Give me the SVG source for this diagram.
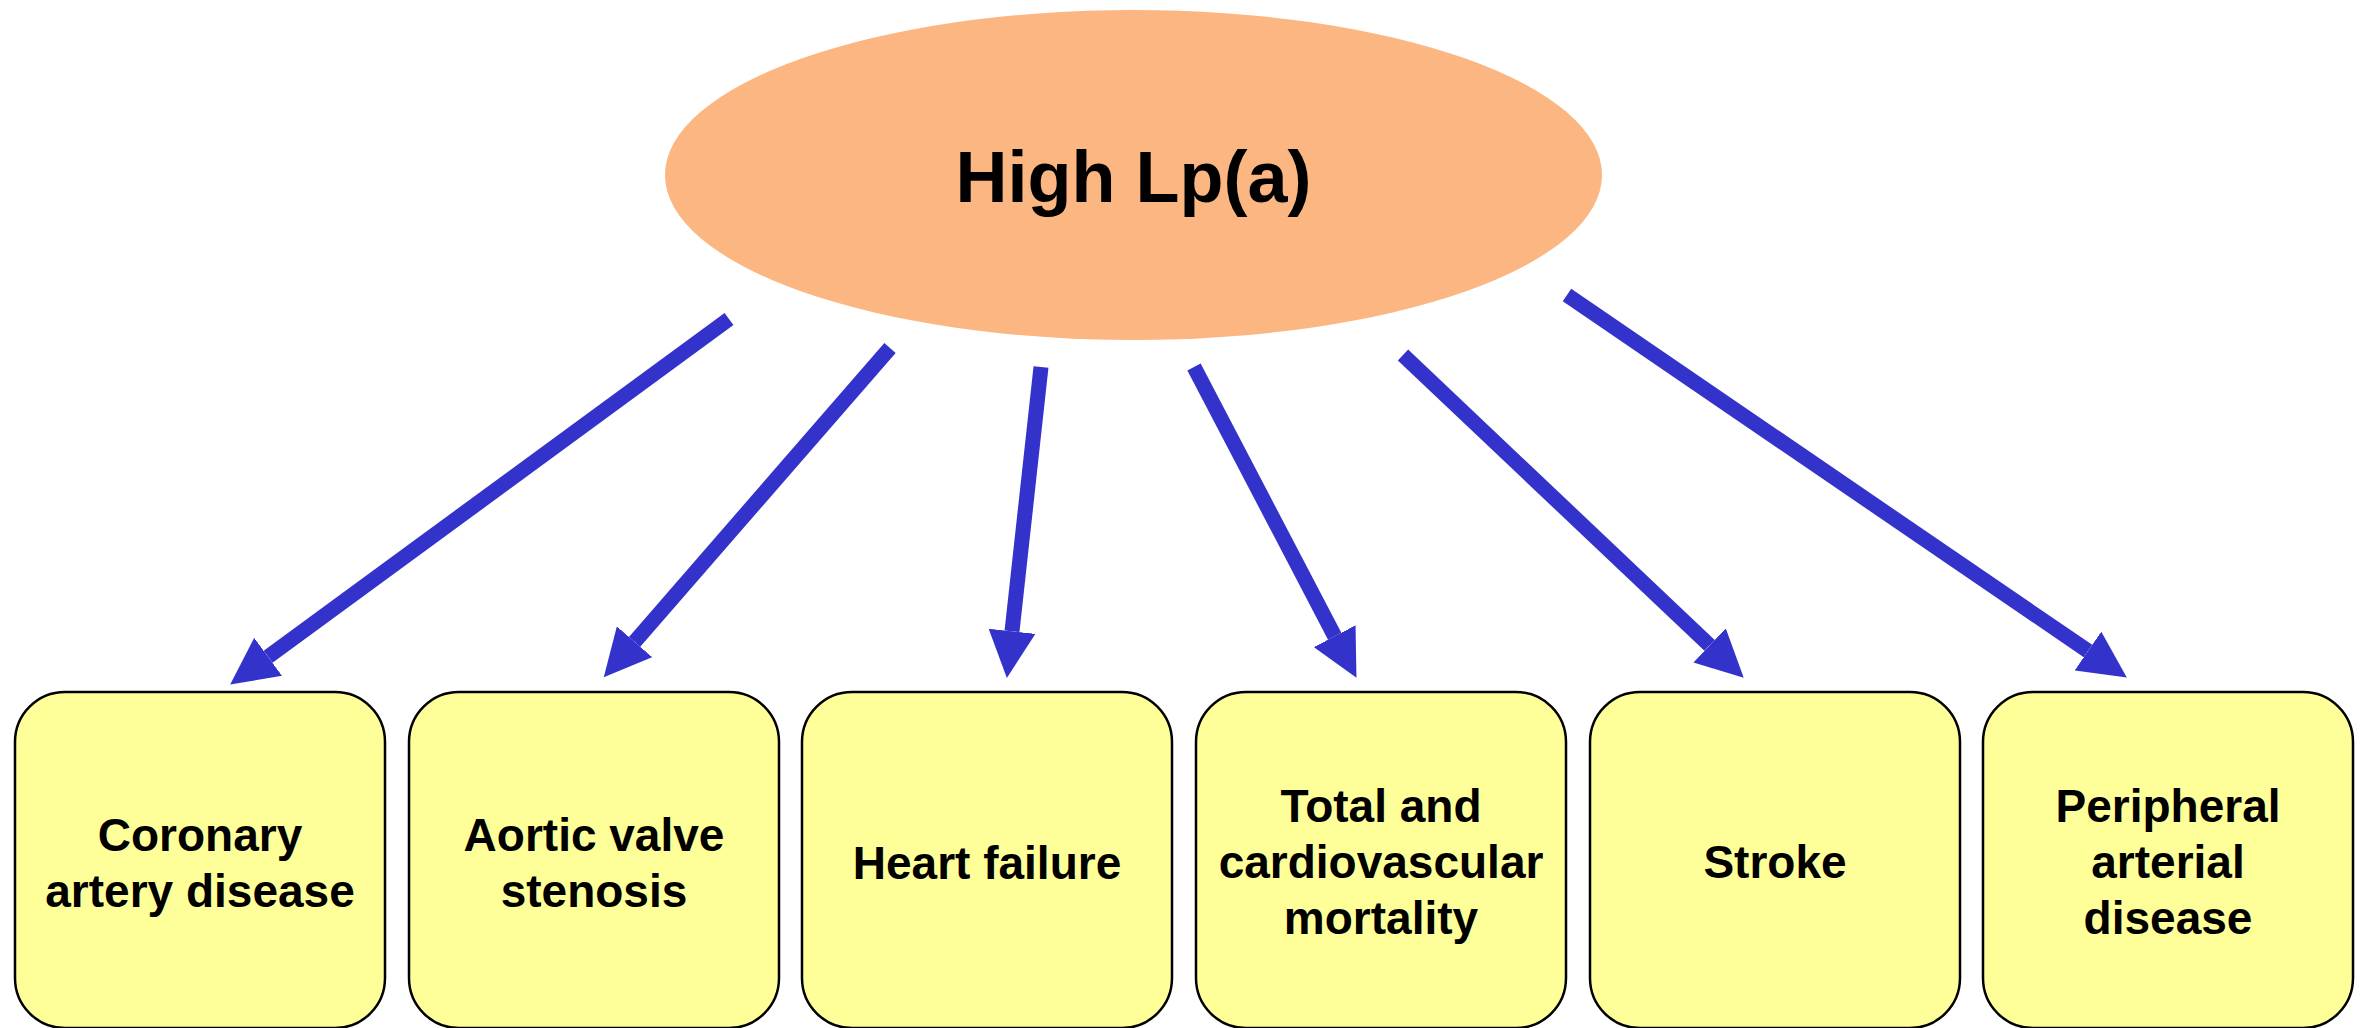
<svg xmlns="http://www.w3.org/2000/svg" width="2367" height="1028" viewBox="0 0 2367 1028">
<style>
.box{fill:#FFFF99;stroke:#000;stroke-width:2.5}
.lbl{font-family:"Liberation Sans",Arial,sans-serif;font-weight:bold;font-size:46px;fill:#000;text-anchor:middle}
.title{font-family:"Liberation Sans",Arial,sans-serif;font-weight:bold;font-size:72px;fill:#000;text-anchor:middle}
.arr{stroke:#3333CC;stroke-width:15;fill:none;marker-end:url(#head)}
</style>
<defs>
<marker id="head" viewBox="0 0 10 10" refX="0" refY="5" markerWidth="47" markerHeight="47" markerUnits="userSpaceOnUse" orient="auto">
<path d="M0,0 L10,5 L0,10 z" fill="#3333CC"/>
</marker>
</defs>
<rect width="2367" height="1028" fill="#fff"/>
<g id="connectors">
<line class="arr" x1="729" y1="319" x2="268.1" y2="656.8"/>
<line class="arr" x1="890" y1="348" x2="634.6" y2="641.8"/>
<line class="arr" x1="1041" y1="367" x2="1012" y2="631.3"/>
<line class="arr" x1="1194" y1="367" x2="1334.7" y2="636.2"/>
<line class="arr" x1="1403" y1="355" x2="1709.6" y2="645.4"/>
<line class="arr" x1="1567" y1="295" x2="2088" y2="651"/>
</g>
<g id="high-lpa">
<ellipse cx="1133.5" cy="175" rx="468.5" ry="165" fill="#FBB682"/>
<text class="title" x="1133.5" y="202">High Lp(a)</text>
</g>
<g id="cad">
<rect class="box" x="15" y="692" width="370" height="336" rx="50" ry="50"/>
<text class="lbl" x="200" y="851">Coronary</text>
<text class="lbl" x="200" y="907">artery disease</text>
</g>
<g id="avs">
<rect class="box" x="409" y="692" width="370" height="336" rx="50" ry="50"/>
<text class="lbl" x="594" y="851">Aortic valve</text>
<text class="lbl" x="594" y="907">stenosis</text>
</g>
<g id="hf">
<rect class="box" x="802" y="692" width="370" height="336" rx="50" ry="50"/>
<text class="lbl" x="987" y="879">Heart failure</text>
</g>
<g id="mortality">
<rect class="box" x="1196" y="692" width="370" height="336" rx="50" ry="50"/>
<text class="lbl" x="1381" y="822">Total and</text>
<text class="lbl" x="1381" y="878">cardiovascular</text>
<text class="lbl" x="1381" y="934">mortality</text>
</g>
<g id="stroke">
<rect class="box" x="1590" y="692" width="370" height="336" rx="50" ry="50"/>
<text class="lbl" x="1775" y="878">Stroke</text>
</g>
<g id="pad">
<rect class="box" x="1983" y="692" width="370" height="336" rx="50" ry="50"/>
<text class="lbl" x="2168" y="822">Peripheral</text>
<text class="lbl" x="2168" y="878">arterial</text>
<text class="lbl" x="2168" y="934">disease</text>
</g>
</svg>
